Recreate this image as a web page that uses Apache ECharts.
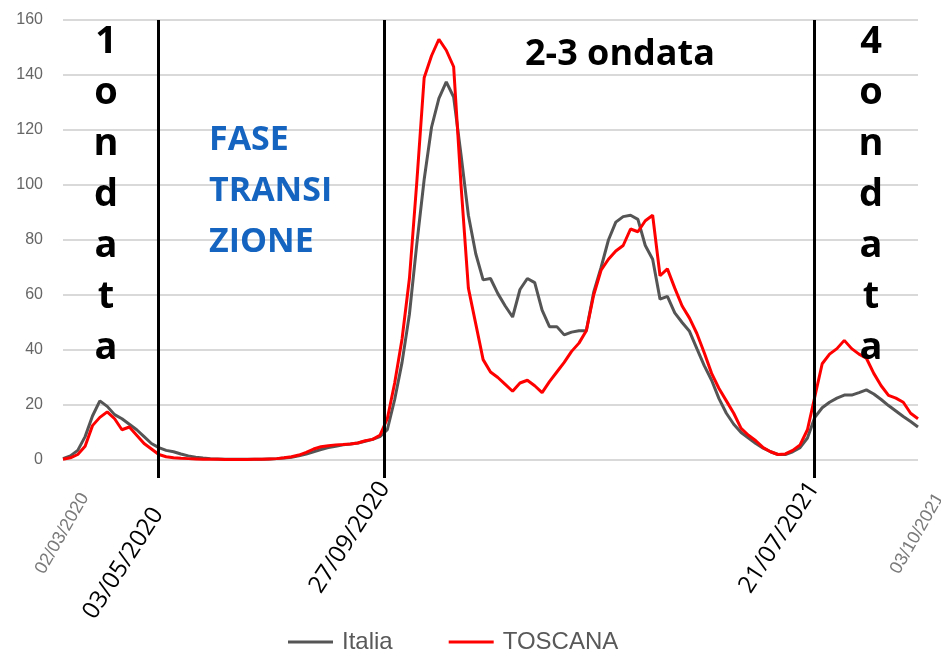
<!DOCTYPE html>
<html><head><meta charset="utf-8">
<script src="https://cdn.jsdelivr.net/npm/echarts@6/dist/echarts.min.js"></script>
<style>html,body{margin:0;padding:0;background:#fff}#c{width:941px;height:651px}</style>
</head><body><div id="c"></div>
<script>
// Values sampled every 5 days from 02/03/2020 to 03/10/2021
const stepDays = 5;
const italia = [
  0.5,1.5,3.5,8.5,16,21.5,19.5,16.5,15,13,
  11,8.5,6,4.5,3.5,3,2.2,1.5,1,0.7,
  0.5,0.4,0.3,0.3,0.3,0.3,0.3,0.3,0.4,0.5,
  0.7,1,1.5,2.2,3,3.8,4.5,5,5.5,5.8,
  6.2,6.8,7.5,8.5,11,22,35.5,53,78.5,102,
  121,131.5,137.5,132,111,89,75,65.5,66,60.5,
  56,52,62,66,64.5,54.5,48.5,48.5,45.5,46.5,
  47,47,61,70,80,86.5,88.5,89,87.5,78,
  73,58.5,59.5,53.5,50,46.8,40.5,34.3,29,22.3,
  17,13,10,8,6,4.3,3,2,2,3,
  4.5,8,15.5,19,21,22.5,23.6,23.6,24.5,25.5,
  24,22,19.8,17.8,15.8,14,12
];
const toscana = [
  0.3,0.8,2,5,12.5,15.5,17.5,15,11,12,
  9,6,4,2,1.2,0.8,0.6,0.5,0.4,0.3,
  0.3,0.3,0.2,0.2,0.2,0.2,0.3,0.3,0.4,0.5,
  0.8,1.2,1.8,2.8,4,4.8,5.2,5.5,5.6,5.8,
  6.2,7,7.5,9,15,28,44,66,101,139,
  147,153,149,143,100,62.5,49.5,36.5,32,30,
  27.5,25,28,29,27,24.5,28.5,32,35.5,39.5,
  42.5,47,60,69,73,76,78,84,83,87,
  89,67,69.5,62.5,56,51.6,46,39,31.5,26,
  21.5,17,11.5,9,7,4.5,3,2,2.2,3.5,
  5.5,11,23,35,38.5,40.5,43.5,40.5,38.5,37,
  31.5,27,23.5,22.5,21,17,15
];
const seriesNames = ['Italia', 'TOSCANA'];
const edgeLabels = ['02/03/2020', '03/10/2021'];
const markerLabels = ['03/05/2020', '27/09/2020', '21/07/2021'];
const markerDays = [64.5, 218, 509.5];
const yMin = 0, yMax = 160, yStep = 20;

const totalDays = (italia.length - 1) * stepDays;
const toPairs = arr => arr.map((v, i) => [i * stepDays, v]);

const chart = echarts.init(document.getElementById('c'), null, {renderer: 'canvas'});
const baseX = {
  type: 'value', min: 0, max: totalDays, position: 'bottom', offset: 0,
  axisLine: {show: false}, splitLine: {show: false}, axisTick: {show: false}
};
chart.setOption({
  animation: false,
  backgroundColor: '#fff',
  grid: {left: 63, right: 23, top: 20, bottom: 191, containLabel: false, outerBoundsMode: 'none'},
  legend: {
    data: seriesNames, left: 283, top: 625, icon: 'rect',
    itemWidth: 45, itemHeight: 3, itemGap: 56,
    textStyle: {fontSize: 24, color: '#595959', fontFamily: 'Liberation Sans', padding: [0, 0, 0, 4]}
  },
  xAxis: [
    Object.assign({}, baseX, {
      axisTick: {show: true, customValues: markerDays, length: 18, inside: false,
                 lineStyle: {color: '#000', width: 3}},
      axisLabel: {
        customValues: [0, totalDays],
        formatter: v => (v === 0 ? edgeLabels[0] : edgeLabels[1]),
        rotate: 60, color: '#7a7a7a', fontSize: 18, fontFamily: 'Liberation Sans',
        verticalAlign: 'top', padding: [16, 0, 0, 0], margin: 22
      }
    }),
    Object.assign({}, baseX, {
      axisLabel: {
        customValues: [markerDays[0]],
        formatter: () => markerLabels[0],
        rotate: 57, color: '#000', fontSize: 24, fontFamily: 'Open Sans', margin: 50
      }
    }),
    Object.assign({}, baseX, {
      axisLabel: {
        customValues: [markerDays[1], markerDays[2]],
        formatter: v => markerLabels[markerDays.indexOf(v)],
        rotate: 57, color: '#000', fontSize: 24, fontFamily: 'Open Sans', margin: 24
      }
    })
  ],
  yAxis: {
    type: 'value', min: yMin, max: yMax, interval: yStep,
    axisLine: {show: false}, axisTick: {show: false},
    splitLine: {lineStyle: {color: '#d9d9d9', width: 2}},
    axisLabel: {color: '#666', fontSize: 16, fontFamily: 'Liberation Sans', margin: 20}
  },
  series: [
    {
      name: seriesNames[0], type: 'line', xAxisIndex: 0, data: toPairs(italia),
      symbol: 'none', lineStyle: {color: '#555', width: 3}, itemStyle: {color: '#555'}
    },
    {
      name: seriesNames[1], type: 'line', xAxisIndex: 0, data: toPairs(toscana),
      symbol: 'none', lineStyle: {color: '#ff0000', width: 3}, itemStyle: {color: '#ff0000'},
      markLine: {
        silent: true, symbol: ['none', 'none'], label: {show: false},
        lineStyle: {color: '#000', width: 3, type: 'solid'},
        data: markerDays.map(d => ({xAxis: d}))
      }
    }
  ],
  graphic: [
    {type: 'text', x: 106, y: 17, z: 100, style: {text: '1\no\nn\nd\na\nt\na', fontSize: 38, fontWeight: 'bold', fontFamily: 'Open Sans', fill: '#000', align: 'center', verticalAlign: 'top', lineHeight: 51}},
    {type: 'text', x: 871, y: 17, z: 100, style: {text: '4\no\nn\nd\na\nt\na', fontSize: 38, fontWeight: 'bold', fontFamily: 'Open Sans', fill: '#000', align: 'center', verticalAlign: 'top', lineHeight: 51}},
    {type: 'text', x: 209, y: 115, z: 100, style: {text: 'FASE\nTRANSI\nZIONE', fontSize: 34, fontWeight: 'bold', fontFamily: 'Open Sans', fill: '#1565C0', align: 'left', verticalAlign: 'top', lineHeight: 51}},
    {type: 'text', x: 525, y: 55, z: 100, style: {text: '2-3 ondata', fontSize: 36, fontWeight: 'bold', fontFamily: 'Open Sans', fill: '#000', align: 'left', verticalAlign: 'middle'}}
  ]
});
</script></body></html>
